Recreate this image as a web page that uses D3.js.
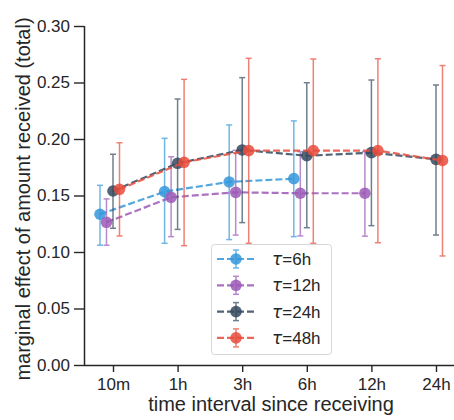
<!DOCTYPE html>
<html><head><meta charset="utf-8">
<script src="https://cdn.jsdelivr.net/npm/d3@7"></script>
<style>body{margin:0;background:#fff;} text{font-family:"Liberation Sans",Arial,sans-serif;}</style>
</head><body><svg id="c" width="454" height="420"></svg>
<script>
const categories = ["10m","1h","3h","6h","12h","24h"];
const seriesNames = ["6h","12h","24h","48h"];
const seriesColors = ["#3498db","#9b59b6","#34495e","#e74c3c"];
// mean, lower, upper per category (null = missing)
const tau6 =  [[0.1334,0.106,0.159],[0.1534,0.1077,0.2006],[0.162,0.111,0.2124],[0.1649,0.1136,0.216],null,null];
const tau12 = [[0.1263,0.106,0.147],[0.1484,0.1136,0.1843],[0.1528,0.115,0.190],[0.152,0.1142,0.1888],[0.152,0.114,0.1888],null];
const tau24 = [[0.154,0.121,0.1865],[0.1785,0.120,0.2354],[0.1903,0.126,0.2543],[0.1852,0.1215,0.2498],[0.1879,0.1233,0.2522],[0.182,0.115,0.2478]];
const tau48 = [[0.1555,0.1142,0.1967],[0.1794,0.1056,0.2528],[0.1897,0.1077,0.2714],[0.1897,0.1077,0.2708],[0.1897,0.1082,0.271],[0.181,0.0965,0.265]];
const seriesData = [tau6, tau12, tau24, tau48];
const yTicks = [0,0.05,0.10,0.15,0.20,0.25,0.30];

const svg = d3.select("#c");
const ink = "#262626";
const x = d3.scalePoint().domain(categories).range([113,436]);
const dodge = d3.scalePoint().domain(seriesNames).range([-13,6.5]);
const y = d3.scaleLinear().domain([0,0.30]).range([365,26]);

// axes
const yAxis = svg.append("g").attr("transform","translate(84,0)")
  .call(d3.axisLeft(y).tickValues(yTicks).tickFormat(d3.format(".2f")).tickSize(10).tickPadding(4));
const xAxis = svg.append("g").attr("transform","translate(0,365)")
  .call(d3.axisBottom(x).tickSize(7).tickPadding(6));
xAxis.select(".domain").attr("d","M84,0.5H454");
[yAxis,xAxis].forEach(g=>{
  g.select(".domain").attr("stroke",ink).attr("stroke-width",1.5);
  g.selectAll(".tick line").attr("stroke",ink).attr("stroke-width",1.4);
  g.selectAll(".tick text").attr("fill",ink).style("font-size","17px").style("font-family","'Liberation Sans',Arial,sans-serif");
});
yAxis.select(".domain").attr("d","M0.5,"+y(0.30)+"V"+(y(0)+0.5));

svg.append("text").attr("x",271).attr("y",411).attr("text-anchor","middle")
  .attr("fill",ink).style("font-size","20px").text("time interval since receiving");
svg.append("text").attr("transform","translate(30,199) rotate(-90)").attr("text-anchor","middle")
  .attr("fill",ink).style("font-size","20px").text("marginal effect of amount received (total)");

// series
seriesData.forEach((data,si)=>{
  const col = seriesColors[si];
  const off = dodge(seriesNames[si]);
  const pts = data.map((d,i)=>d?{cx:x(categories[i])+off, m:d[0], lo:d[1], hi:d[2]}:null).filter(d=>d);
  const g = svg.append("g");
  g.append("path").datum(pts).attr("fill","none").attr("stroke",col).attr("stroke-width",2.2)
    .attr("stroke-dasharray","7,3").attr("opacity",0.85)
    .attr("d",d3.line().x(d=>d.cx).y(d=>y(d.m)));
  const eb = g.selectAll(".eb").data(pts).enter().append("g").attr("opacity",0.7)
    .attr("stroke",col).attr("stroke-width",1.5);
  eb.append("line").attr("x1",d=>d.cx).attr("x2",d=>d.cx).attr("y1",d=>y(d.lo)).attr("y2",d=>y(d.hi));
  eb.append("line").attr("x1",d=>d.cx-3).attr("x2",d=>d.cx+3).attr("y1",d=>y(d.lo)).attr("y2",d=>y(d.lo));
  eb.append("line").attr("x1",d=>d.cx-3).attr("x2",d=>d.cx+3).attr("y1",d=>y(d.hi)).attr("y2",d=>y(d.hi));
  g.selectAll("circle").data(pts).enter().append("circle")
    .attr("cx",d=>d.cx).attr("cy",d=>y(d.m)).attr("r",5.8).attr("fill",col).attr("opacity",0.85);
});

// legend
const lg = svg.append("g").attr("transform","translate(211,244)");
lg.append("rect").attr("x",0.5).attr("y",0.5).attr("width",120).attr("height",110).attr("rx",3)
  .attr("fill","white").attr("fill-opacity",0.85).attr("stroke","#d6d6d6").attr("stroke-width",1);
seriesNames.forEach((name,si)=>{
  const col = seriesColors[si];
  const cy = 15 + si*26.3;
  const e = lg.append("g");
  e.append("line").attr("x1",6).attr("x2",44).attr("y1",cy).attr("y2",cy).attr("stroke",col)
    .attr("stroke-width",2.2).attr("stroke-dasharray","7,3").attr("opacity",0.85);
  const ebg = e.append("g").attr("stroke",col).attr("stroke-width",1.5).attr("opacity",0.7);
  ebg.append("line").attr("x1",25).attr("x2",25).attr("y1",cy-9).attr("y2",cy+9);
  ebg.append("line").attr("x1",22).attr("x2",28).attr("y1",cy-9).attr("y2",cy-9);
  ebg.append("line").attr("x1",22).attr("x2",28).attr("y1",cy+9).attr("y2",cy+9);
  e.append("circle").attr("cx",25).attr("cy",cy).attr("r",5.8).attr("fill",col).attr("opacity",0.85);
  const t = e.append("text").attr("x",61).attr("y",cy+6).attr("fill",ink).style("font-size","17px");
  t.append("tspan").style("font-style","italic").style("font-family","'DejaVu Sans',sans-serif").text("τ");
  t.append("tspan").text("=" + name);
});
</script></body></html>
